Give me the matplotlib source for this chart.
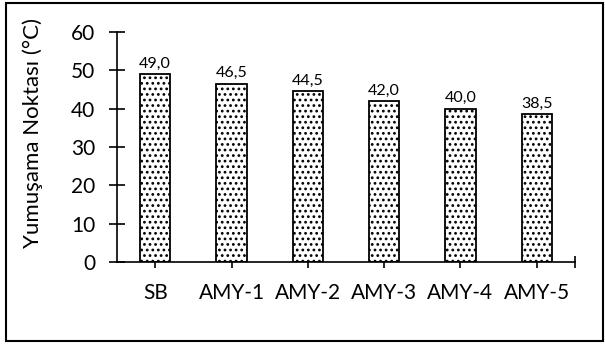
import matplotlib.pyplot as plt
from matplotlib.patches import Rectangle

# Yumuşama noktası ölçümleri
numuneler = ["SB", "AMY-1", "AMY-2", "AMY-3", "AMY-4", "AMY-5"]
yumusama = [49.0, 46.5, 44.5, 42.0, 40.0, 38.5]

plt.rcParams["font.family"] = ["Lato", "DejaVu Sans"]
plt.rcParams["hatch.linewidth"] = 1.2

fig = plt.figure(figsize=(6.05, 3.45), dpi=100)
ax = fig.add_axes([0.1934, 0.2406, 0.757, 0.6666])

x = range(len(numuneler))
bars = ax.bar(x, yumusama, width=0.4, color="white", edgecolor="black",
              linewidth=1.3, hatch="...", zorder=2)

for xi, v in zip(x, yumusama):
    ax.text(xi, v + 0.9, f"{v:.1f}".replace(".", ","), ha="center",
            va="bottom", fontsize=11.5)

ax.set_xlim(-0.5, 5.5)
ax.set_ylim(0, 60)
ax.set_yticks(range(0, 61, 10))
ax.set_xticks(list(x) + [5.5])
ax.set_xticklabels(numuneler + [""])

for side in ("top", "right"):
    ax.spines[side].set_visible(False)
for side in ("left", "bottom"):
    ax.spines[side].set_linewidth(1.2)

ax.tick_params(axis="y", direction="inout", length=11, width=1.2,
               pad=10, labelsize=15)
ax.tick_params(axis="x", direction="inout", length=8, width=1.2,
               pad=11, labelsize=15)

fig.text(0.054, 0.615, "Yumuşama Noktası (°C)", rotation=90,
         ha="center", va="center", fontsize=16)

# çerçeve
fig.patches.append(Rectangle((0.01, 0.012), 0.986, 0.98, transform=fig.transFigure,
                             fill=False, edgecolor="black", linewidth=1.5))

fig.savefig("out.png", dpi=100)
